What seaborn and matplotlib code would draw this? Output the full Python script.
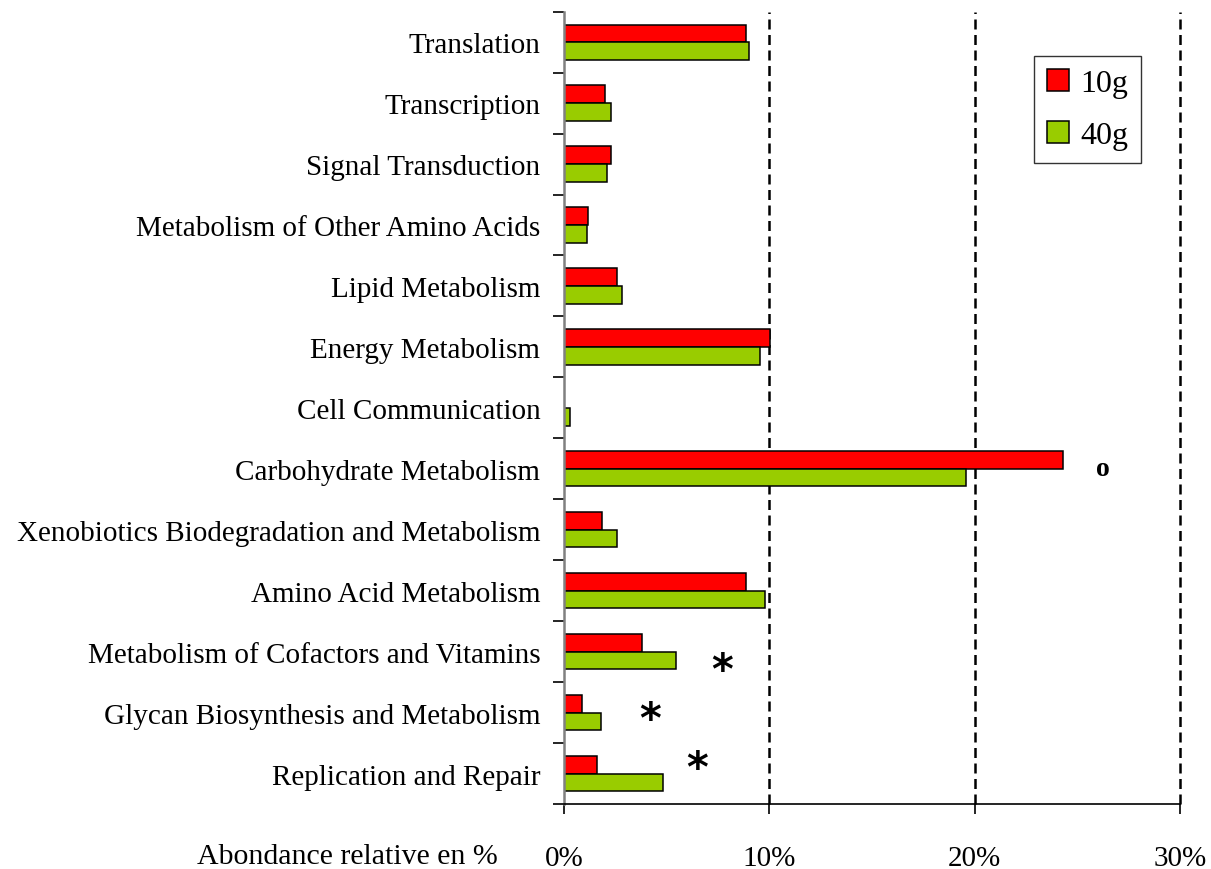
import pandas as pd
import numpy as np
import matplotlib
matplotlib.use('Agg')
import matplotlib.pyplot as plt
import seaborn as sns
from matplotlib.ticker import FixedLocator, PercentFormatter

# --- Data ---
categories = ['Translation', 'Transcription', 'Signal Transduction',
              'Metabolism of Other Amino Acids', 'Lipid Metabolism',
              'Energy Metabolism', 'Cell Communication', 'Carbohydrate Metabolism',
              'Xenobiotics Biodegradation and Metabolism', 'Amino Acid Metabolism',
              'Metabolism of Cofactors and Vitamins',
              'Glycan Biosynthesis and Metabolism', 'Replication and Repair']
groups = ['10g', '40g']
share_10g = [8.87, 2.01, 2.29, 1.18, 2.56, 10.03, 0.0, 24.3, 1.87, 8.88, 3.82, 0.89, 1.59]
share_40g = [9.00, 2.27, 2.08, 1.10, 2.83, 9.57, 0.28, 19.6, 2.56, 9.77, 5.47, 1.80, 4.84]
x_ticks = [0, 10, 20, 30]

# significance marks: (text, category, x value)
marks = [('o', 'Carbohydrate Metabolism', 26.25),
         ('*', 'Metabolism of Cofactors and Vitamins', 7.7),
         ('*', 'Glycan Biosynthesis and Metabolism', 4.2),
         ('*', 'Replication and Repair', 6.5)]
mark_offsets = [0.0, 0.2, 0.0, -0.2]

df = pd.DataFrame({
    'category': categories * 2,
    'group': ['10g'] * len(categories) + ['40g'] * len(categories),
    'value': share_10g + share_40g,
})

# --- Style ---
sns.set_theme(style='white')
plt.rcParams['font.family'] = ['Liberation Serif', 'DejaVu Serif']
plt.rcParams['text.color'] = 'black'
plt.rcParams['xtick.color'] = 'black'
plt.rcParams['ytick.color'] = 'black'
plt.rcParams['xtick.labelcolor'] = 'black'
plt.rcParams['ytick.labelcolor'] = 'black'
COLOR_10G = '#FF0000'
COLOR_40G = '#99CC00'

fig = plt.figure(figsize=(12.11, 8.70), dpi=100)
ax = fig.add_axes([0.4657, 0.0747, 0.5087, 0.9107])

sns.barplot(data=df, y='category', x='value', hue='group', order=categories,
            hue_order=groups, palette=[COLOR_10G, COLOR_40G], orient='h',
            width=0.58, errorbar=None, saturation=1, edgecolor='black',
            linewidth=1.1, ax=ax)

ax.set_xlim(0, 30)
ax.set_ylim(len(categories) - 0.5, -0.5)
ax.set_xlabel('')
ax.set_ylabel('')

# x axis
ax.xaxis.set_major_locator(FixedLocator(x_ticks))
ax.xaxis.set_major_formatter(PercentFormatter(decimals=0))
ax.tick_params(axis='x', direction='out', length=7.5, width=1.2, color='black',
               pad=22, labelsize=21, bottom=True)

# y axis: category boundaries as ticks
ax.yaxis.set_minor_locator(FixedLocator(np.arange(-0.5, len(categories), 1.0)))
ax.tick_params(axis='y', which='major', length=0, pad=17, labelsize=21)
ax.tick_params(axis='y', which='minor', direction='out', length=8, width=1.2,
               color='black', left=True)

for side in ['top', 'right']:
    ax.spines[side].set_visible(False)
ax.spines['left'].set_color('#808080')
ax.spines['left'].set_linewidth(1.8)
ax.spines['bottom'].set_color('black')
ax.spines['bottom'].set_linewidth(1.2)

# dashed reference lines
for xv in x_ticks[1:]:
    ax.axvline(xv, color='black', linestyle=(0, (4, 2.2)), linewidth=1.8,
               zorder=0.5, clip_on=False)

# significance marks
for (txt, cat, xv), dy in zip(marks, mark_offsets):
    yv = categories.index(cat) + dy
    ax.text(xv, yv + (0.12 if txt == '*' else 0), txt, ha='center', va='center',
            fontsize=30 if txt == '*' else 20, fontweight='bold',
            family=['DejaVu Sans'] if txt == '*' else None)

# legend
handles, labels = ax.get_legend_handles_labels()
ax.legend(handles, labels, loc='upper left', bbox_to_anchor=(0.763, 0.944),
          borderaxespad=0, fontsize=23, frameon=True, fancybox=False,
          edgecolor='black', handlelength=0.7, handleheight=0.7,
          handletextpad=0.35, labelspacing=0.7, borderpad=0.4)
ax.get_legend().get_frame().set_linewidth(1.0)

fig.text(498 / 1211, 1 - 857 / 870, 'Abondance relative en %', ha='right',
         va='center', fontsize=21.5)

fig.savefig('out.png', dpi=100)
